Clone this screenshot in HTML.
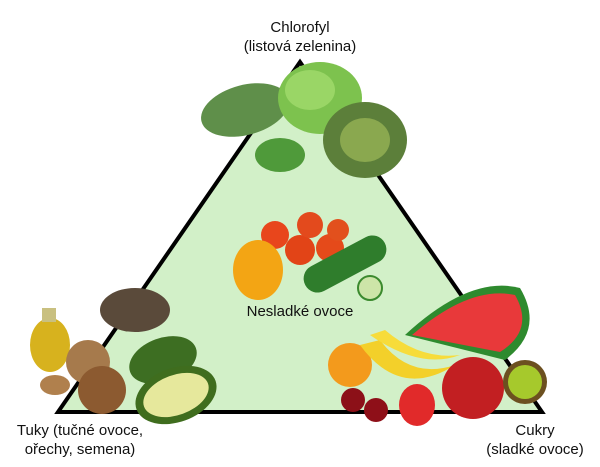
<!DOCTYPE html>
<html><head><meta charset="utf-8"><style>
html,body{margin:0;padding:0;background:#fff;}
body{width:600px;height:467px;position:relative;overflow:hidden;font-family:"Liberation Sans",sans-serif;}
.t{position:absolute;font-size:15px;color:#111;text-align:center;line-height:19px;}
</style></head><body>
<svg width="600" height="467" style="position:absolute;left:0;top:0">
<polygon points="300,62 58,412 542,412" fill="#d2f0c8" stroke="#000" stroke-width="4" stroke-linejoin="miter"/>
<!-- greens top -->
<ellipse cx="245" cy="110" rx="45" ry="25" fill="#5f8f4a" transform="rotate(-15 245 110)"/>
<ellipse cx="320" cy="98" rx="42" ry="36" fill="#7dc24e"/>
<ellipse cx="310" cy="90" rx="25" ry="20" fill="#9ad666"/>
<ellipse cx="365" cy="140" rx="42" ry="38" fill="#5c7f3a"/>
<ellipse cx="365" cy="140" rx="25" ry="22" fill="#8aa84f"/>
<ellipse cx="280" cy="155" rx="25" ry="17" fill="#4f9a3a"/>
<!-- center veg -->
<circle cx="275" cy="235" r="14" fill="#e8461c"/>
<circle cx="300" cy="250" r="15" fill="#e24417"/>
<circle cx="330" cy="248" r="14" fill="#e54a1a"/>
<circle cx="310" cy="225" r="13" fill="#e34a1d"/>
<circle cx="338" cy="230" r="11" fill="#e2501d"/>
<ellipse cx="258" cy="270" rx="25" ry="30" fill="#f3a514"/>
<rect x="300" y="250" width="90" height="28" rx="14" fill="#2f7d2c" transform="rotate(-28 345 264)"/>
<circle cx="370" cy="288" r="12" fill="#cde5a8" stroke="#3b8a2e" stroke-width="2"/>
<!-- bottom left -->
<ellipse cx="50" cy="345" rx="20" ry="27" fill="#d7b21e"/>
<rect x="42" y="308" width="14" height="14" fill="#c9c080"/>
<ellipse cx="135" cy="310" rx="35" ry="22" fill="#5a4a3a"/>
<circle cx="88" cy="362" r="22" fill="#a67a4c"/>
<circle cx="102" cy="390" r="24" fill="#8c5a30"/>
<ellipse cx="55" cy="385" rx="15" ry="10" fill="#b0804d"/>
<ellipse cx="163" cy="360" rx="35" ry="22" fill="#3d6e22" transform="rotate(-20 163 360)"/>
<ellipse cx="176" cy="395" rx="42" ry="27" fill="#3f6d1e" transform="rotate(-20 176 395)"/>
<ellipse cx="176" cy="395" rx="34" ry="20" fill="#e6e89c" transform="rotate(-20 176 395)"/>
<!-- bottom right -->
<path d="M405,335 Q470,275 520,288 Q545,330 505,360 Z" fill="#2e8a2e"/>
<path d="M412,335 Q470,285 515,295 Q535,330 500,352 Z" fill="#e8393a"/>
<circle cx="350" cy="365" r="22" fill="#f39a1c"/>
<path d="M360,345 Q400,400 455,365 Q410,380 380,340 Z" fill="#f3d02a"/>
<path d="M370,335 Q420,370 460,355 Q420,360 385,330 Z" fill="#f7dc3a"/>
<circle cx="473" cy="388" r="31" fill="#c21f22"/>
<circle cx="525" cy="382" r="22" fill="#6c5020"/>
<circle cx="525" cy="382" r="17" fill="#a6c92c"/>
<circle cx="353" cy="400" r="12" fill="#8c1018"/>
<circle cx="376" cy="410" r="12" fill="#8e0f18"/>
<ellipse cx="417" cy="405" rx="18" ry="21" fill="#e12a2a"/>
</svg>
<div class="t" style="left:240px;top:18px;width:120px;">Chlorofyl<br>(listová zelenina)</div>
<div class="t" style="left:230px;top:302px;width:140px;">Nesladké ovoce</div>
<div class="t" style="left:0;top:421px;width:160px;">Tuky (tučné ovoce,<br>ořechy, semena)</div>
<div class="t" style="left:470px;top:421px;width:130px;">Cukry<br>(sladké ovoce)</div>
</body></html>
